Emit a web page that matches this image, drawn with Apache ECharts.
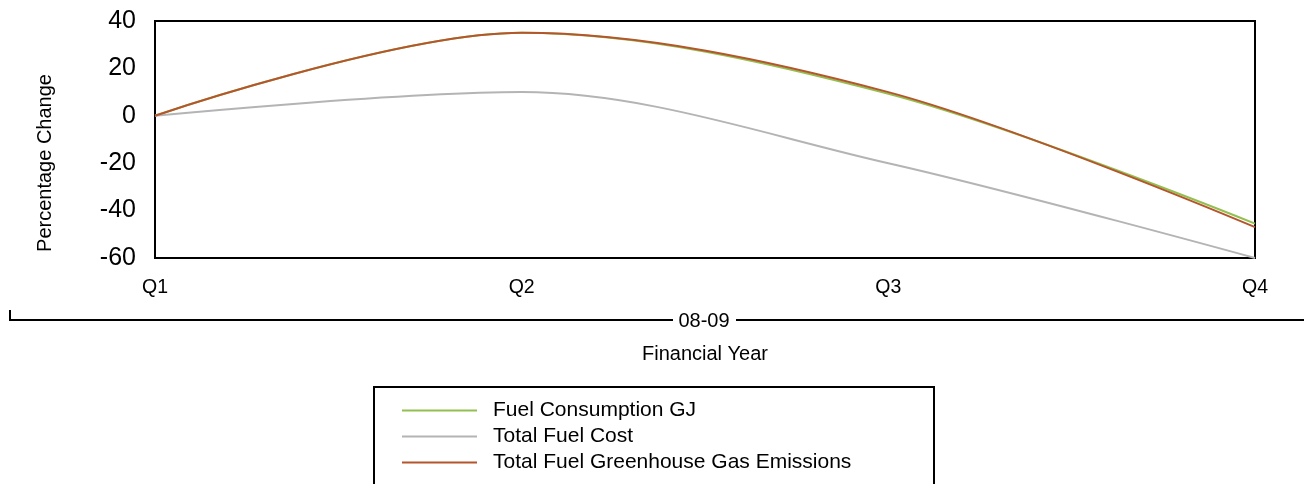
<!DOCTYPE html>
<html>
<head>
<meta charset="utf-8">
<script src="https://cdn.jsdelivr.net/npm/echarts@6/dist/echarts.min.js"></script>
<style>
html,body{margin:0;padding:0;background:#fff;}
#chart{width:1304px;height:484px;}
</style>
</head>
<body>
<div id="chart"></div>
<script>
const categories = ['Q1', 'Q2', 'Q3', 'Q4'];
const fuelConsumption = [0, 35, 9.3, -45.5];
const totalFuelCost = [0, 10, -20, -60];
const ghgEmissions = [0, 35, 10, -47];
const seriesNames = ['Fuel Consumption GJ', 'Total Fuel Cost', 'Total Fuel Greenhouse Gas Emissions'];
const seriesColors = ['#92c050', '#b4b4b4', '#b5552c'];
const yTicks = { min: -60, max: 40, interval: 20 };
const groupLabel = '08-09';
const xTitle = 'Financial Year';
const yTitle = 'Percentage Change';

const FONT = '"Liberation Sans", Arial, sans-serif';
const chart = echarts.init(document.getElementById('chart'), null, { renderer: 'canvas' });

const seriesData = [fuelConsumption, totalFuelCost, ghgEmissions];

chart.setOption({
  animation: false,
  backgroundColor: '#fff',
  textStyle: { fontFamily: FONT },
  grid: {
    left: 155, right: 49, top: 21, bottom: 226,
    show: true, borderColor: '#000', borderWidth: 2, backgroundColor: 'transparent'
  },
  xAxis: {
    type: 'category',
    data: categories,
    boundaryGap: false,
    axisLine: { onZero: false, lineStyle: { color: '#000', width: 2 } },
    axisTick: { show: false },
    axisLabel: { color: '#000', fontSize: 19.5, fontFamily: FONT, margin: 20 },
    splitLine: { show: false }
  },
  yAxis: {
    type: 'value',
    min: yTicks.min, max: yTicks.max, interval: yTicks.interval,
    axisLine: { show: true, lineStyle: { color: '#000', width: 2 } },
    axisTick: { show: false },
    axisLabel: { color: '#000', fontSize: 25, fontFamily: FONT, margin: 19 },
    splitLine: { show: false }
  },
  legend: {
    orient: 'vertical',
    left: 402, top: 400,
    width: 520, height: 80,
    padding: 0,
    icon: 'rect', itemWidth: 75, itemHeight: 2, itemGap: 5,
    textStyle: { color: '#000', fontSize: 21, fontFamily: FONT, lineHeight: 21, padding: [0, 0, 0, 11] },
    data: seriesNames
  },
  series: seriesData.map((d, i) => ({
    name: seriesNames[i],
    type: 'line',
    data: d,
    smooth: 0.33,
    symbol: 'none',
    color: seriesColors[i],
    lineStyle: { color: seriesColors[i], width: 2 }
  })),
  graphic: [
    { type: 'rect', shape: { x: 374, y: 387, width: 560, height: 130 }, style: { stroke: '#000', lineWidth: 2, fill: 'none' } },
    { type: 'line', shape: { x1: 10, y1: 310, x2: 10, y2: 320 }, style: { stroke: '#000', lineWidth: 2 } },
    { type: 'line', shape: { x1: 9, y1: 320, x2: 673, y2: 320 }, style: { stroke: '#000', lineWidth: 2 } },
    { type: 'line', shape: { x1: 736, y1: 320, x2: 1304, y2: 320 }, style: { stroke: '#000', lineWidth: 2 } },
    { type: 'text', x: 704, y: 321, style: { text: groupLabel, font: '20px ' + FONT, fill: '#000', textAlign: 'center', textVerticalAlign: 'middle' } },
    { type: 'text', x: 705, y: 354, style: { text: xTitle, font: '20px ' + FONT, fill: '#000', textAlign: 'center', textVerticalAlign: 'middle' } },
    { type: 'text', x: 45, y: 163, rotation: Math.PI / 2, style: { text: yTitle, font: '20px ' + FONT, fill: '#000', textAlign: 'center', textVerticalAlign: 'middle' } }
  ]
});
</script>
</body>
</html>
